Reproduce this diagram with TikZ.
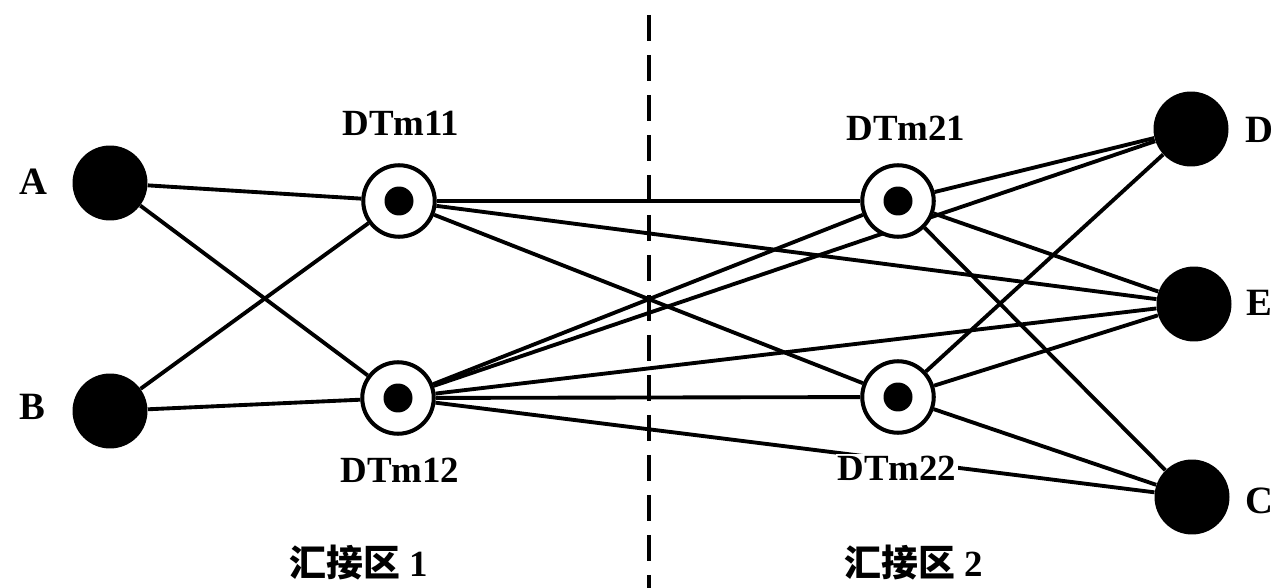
\documentclass[tikz,border=0pt]{standalone}
\usepackage{fontspec}
\setmainfont{Liberation Serif}
\newfontfamily\cjk{Noto Sans CJK SC}
\usetikzlibrary{backgrounds}

\begin{document}
\begin{tikzpicture}[x=0.02cm,y=-0.02cm,
        endpt/.style={circle,fill=black,minimum size=1.5cm,inner sep=0pt},
        tandem/.style={circle,draw=black,fill=white,line width=2.3pt,minimum size=1.43cm,inner sep=0pt,
            path picture={\fill[black] (path picture bounding box.center) circle (0.29cm);}},
        ptlabel/.style={font=\fontsize{22}{26}\selectfont\bfseries},
        dtmlabel/.style={font=\fontsize{21}{24}\selectfont\bfseries,fill=white,inner sep=1pt},
        zonelabel/.style={font=\fontsize{21}{24}\selectfont\bfseries},
        trunk/.style={line width=2.2pt}]

            \useasboundingbox (0,0) rectangle (1275,588);

            % end offices
            \node[endpt] (A) at (110,183) {};
            \node[endpt] (B) at (110,411) {};
            \node[endpt] (D) at (1191,129) {};
            \node[endpt] (E) at (1194,304) {};
            \node[endpt] (C) at (1192,497) {};

            \node[ptlabel] (lA) at (33,182) {A};
            \node[ptlabel] (lB) at (32,407) {B};
            \node[ptlabel] (lD) at (1259,130) {D};
            \node[ptlabel] (lE) at (1259,303) {E};
            \node[ptlabel] (lC) at (1259,501) {C};

            % tandem offices
            \node[tandem] (dtm11) at (399,201) {};
            \node[tandem] (dtm12) at (398,398) {};
            \node[tandem] (dtm21) at (898,201) {};
            \node[tandem] (dtm22) at (898,397) {};

            \node[dtmlabel] (ldtm11) at (401,123) {DTm11};
            \node[dtmlabel] (ldtm12) at (400,470) {DTm12};
            \node[dtmlabel] (ldtm21) at (906,128) {DTm21};
            \node[dtmlabel] (ldtm22) at (897,468) {DTm22};

            % trunks
            \begin{scope}[on background layer]
                \foreach \a/\b in {A/dtm11, A/dtm12, B/dtm11, B/dtm12,
                        dtm11/dtm21, dtm11/E, dtm11/dtm22,
                        dtm12/dtm21, dtm12/D, dtm12/E, dtm12/dtm22, dtm12/C,
                        dtm21/D, dtm21/E, dtm21/C,
                        dtm22/D, dtm22/E, dtm22/C}
                    \draw[trunk] (\a) -- (\b);
            \end{scope}

            % zone border
            \coordinate (top) at (649,15);
            \coordinate (bottom) at (649,588);
            \draw[line width=1.8pt,dash pattern=on 0.52cm off 0.28cm] (top) -- (bottom);

            \node[zonelabel] (zone1) at (359,563) {{\cjk 汇接区}\ 1};
            \node[zonelabel] (zone2) at (914,563) {{\cjk 汇接区}\ 2};

        \end{tikzpicture}
\end{document}
